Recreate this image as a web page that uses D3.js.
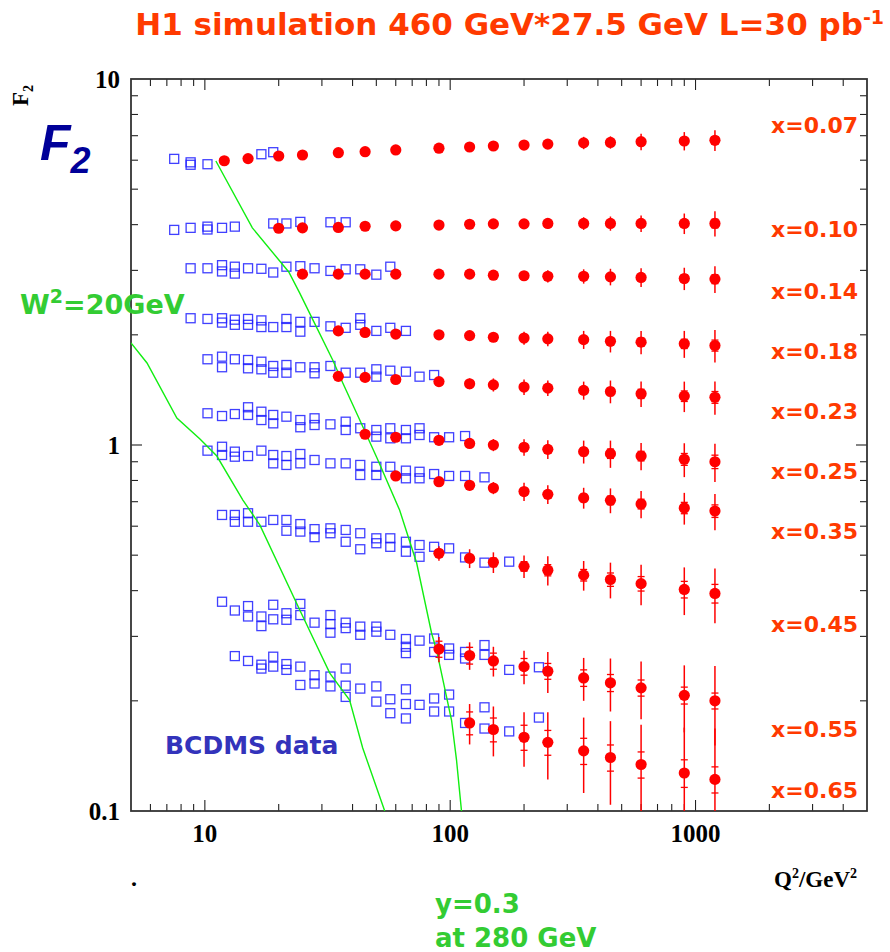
<!DOCTYPE html>
<html>
<head>
<meta charset="utf-8">
<script src="https://cdn.jsdelivr.net/npm/d3@7"></script>
<style>
  html, body { margin: 0; padding: 0; background: #ffffff; }
  svg { display: block; }
</style>
</head>
<body>
<svg id="chart" width="890" height="952"></svg>
<script>
// ---------------------------------------------------------------
// F2 structure function: simulated H1 points vs BCDMS measurements
// ---------------------------------------------------------------

// x bins (one row of points each)
const xBins = ["0.07", "0.10", "0.14", "0.18", "0.23", "0.25", "0.35", "0.45", "0.55", "0.65"];

// where each row's "x=..." label sits (in F2 units)
const labelF2 = [7.49, 3.89, 2.64, 1.81, 1.24, 0.849, 0.582, 0.324, 0.168, 0.114];

// simulated H1 Q^2 grid (GeV^2)
const h1Q2 = [12, 15, 20, 25, 35, 45, 60, 90, 120, 150, 200, 250, 350, 450, 600, 900, 1200];

// index of the first Q^2 value used by each row
const h1Start = [0, 2, 3, 4, 4, 5, 6, 7, 7, 8];

// simulated F2 values per row
const h1F2 = [
  [5.98, 6.06, 6.16, 6.20, 6.29, 6.33, 6.40, 6.47, 6.52, 6.56, 6.60, 6.64, 6.69, 6.71, 6.74, 6.77, 6.80],
  [3.91, 3.92, 3.93, 3.96, 3.97, 3.99, 4.01, 4.02, 4.02, 4.03, 4.03, 4.03, 4.03, 4.03, 4.03],
  [2.93, 2.93, 2.93, 2.93, 2.93, 2.93, 2.91, 2.90, 2.89, 2.89, 2.88, 2.87, 2.85, 2.84],
  [2.05, 2.03, 2.01, 2.00, 1.99, 1.97, 1.96, 1.95, 1.94, 1.92, 1.91, 1.89, 1.87],
  [1.54, 1.53, 1.51, 1.49, 1.47, 1.46, 1.44, 1.43, 1.41, 1.40, 1.38, 1.36, 1.35],
  [1.07, 1.05, 1.03, 1.01, 1.00, 0.986, 0.973, 0.959, 0.947, 0.933, 0.914, 0.900],
  [0.823, 0.794, 0.776, 0.763, 0.746, 0.733, 0.717, 0.706, 0.690, 0.673, 0.660],
  [0.506, 0.490, 0.478, 0.466, 0.455, 0.441, 0.429, 0.418, 0.403, 0.393],
  [0.277, 0.266, 0.257, 0.248, 0.241, 0.231, 0.224, 0.217, 0.207, 0.200],
  [0.174, 0.167, 0.159, 0.154, 0.146, 0.140, 0.134, 0.127, 0.122]
];

// total uncertainty per point
const h1Err = [
  [0.08, 0.08, 0.08, 0.08, 0.08, 0.08, 0.08, 0.12, 0.12, 0.12, 0.17, 0.17, 0.26, 0.26, 0.35, 0.39, 0.44],
  [0.05, 0.05, 0.05, 0.05, 0.05, 0.08, 0.08, 0.10, 0.10, 0.13, 0.16, 0.18, 0.21, 0.26, 0.32],
  [0.04, 0.04, 0.06, 0.06, 0.06, 0.08, 0.07, 0.09, 0.11, 0.13, 0.15, 0.17, 0.20, 0.24],
  [0.04, 0.04, 0.04, 0.04, 0.05, 0.06, 0.08, 0.09, 0.11, 0.13, 0.14, 0.16, 0.19],
  [0.03, 0.03, 0.04, 0.04, 0.05, 0.06, 0.07, 0.07, 0.08, 0.10, 0.11, 0.13, 0.14],
  [0.020, 0.020, 0.026, 0.032, 0.038, 0.051, 0.057, 0.069, 0.081, 0.080, 0.097, 0.108],
  [0.016, 0.020, 0.025, 0.029, 0.043, 0.043, 0.047, 0.055, 0.059, 0.067, 0.075],
  [0.023, 0.029, 0.031, 0.033, 0.042, 0.041, 0.048, 0.053, 0.060, 0.067],
  [0.022, 0.023, 0.024, 0.026, 0.031, 0.031, 0.037, 0.039, 0.043, 0.049],
  [0.022, 0.026, 0.027, 0.032, 0.034, 0.036, 0.038, 0.042, 0.046]
];

// statistical part of the uncertainty (inner tick marks)
const h1Stat = [
  [0.03, 0.03, 0.03, 0.03, 0.03, 0.03, 0.03, 0.04, 0.04, 0.04, 0.06, 0.06, 0.09, 0.09, 0.12, 0.14, 0.15],
  [0.02, 0.02, 0.02, 0.02, 0.02, 0.03, 0.03, 0.04, 0.04, 0.05, 0.06, 0.06, 0.07, 0.09, 0.11],
  [0.015, 0.015, 0.02, 0.02, 0.02, 0.03, 0.03, 0.03, 0.04, 0.05, 0.05, 0.06, 0.07, 0.08],
  [0.015, 0.015, 0.015, 0.015, 0.02, 0.02, 0.03, 0.03, 0.04, 0.045, 0.05, 0.055, 0.065],
  [0.01, 0.01, 0.015, 0.015, 0.02, 0.02, 0.025, 0.025, 0.03, 0.035, 0.04, 0.045, 0.05],
  [0.008, 0.008, 0.010, 0.012, 0.014, 0.018, 0.020, 0.024, 0.028, 0.028, 0.034, 0.038],
  [0.006, 0.008, 0.009, 0.011, 0.015, 0.015, 0.017, 0.019, 0.021, 0.024, 0.026],
  [0.010, 0.012, 0.013, 0.014, 0.016, 0.016, 0.018, 0.019, 0.021, 0.023],
  [0.014, 0.014, 0.013, 0.013, 0.012, 0.012, 0.012, 0.011, 0.011, 0.010],
  [0.0125, 0.0125, 0.0125, 0.012, 0.012, 0.0115, 0.011, 0.011, 0.010]
];

// BCDMS measurements per row: [Q^2, F2]
const bcdms007 = [[7.5, 6.05], [8.75, 5.92], [8.75, 5.83], [10.25, 5.85], [17, 6.23], [19, 6.31]];
const bcdms010 = [[7.5, 3.87], [8.75, 3.92], [10.25, 3.95], [10.25, 3.88], [11.75, 3.92], [13.25, 3.95],
  [19, 4.03], [21.5, 4.03], [24.5, 4.07], [32.5, 4.06], [37.5, 4.06]];
const bcdms014 = [[8.75, 3.04], [10.25, 3.04], [11.75, 3.10], [11.75, 2.98], [13.25, 3.07], [13.25, 2.94],
  [15, 3.04], [17, 3.03], [19, 2.96], [21.5, 3.07], [24.5, 3.08], [28, 3.04], [32.5, 2.99], [37.5, 3.02],
  [43, 3.02], [50, 2.92], [57, 3.07]];
const bcdms018 = [[8.75, 2.22], [10.25, 2.21], [11.75, 2.22], [11.75, 2.16], [13.25, 2.20], [13.25, 2.13],
  [15, 2.21], [15, 2.13], [17, 2.19], [17, 2.10], [19, 2.10], [21.5, 2.21], [21.5, 2.10], [24.5, 2.17],
  [24.5, 2.04], [28, 2.17], [32.5, 2.11], [37.5, 2.09], [43, 2.22], [43, 2.13], [50, 2.05], [57, 2.09], [66, 2.05]];
const bcdms023 = [[10.25, 1.715], [11.75, 1.743], [11.75, 1.631], [13.25, 1.715], [15, 1.707], [15, 1.62],
  [17, 1.689], [17, 1.61], [19, 1.644], [19, 1.576], [21.5, 1.654], [21.5, 1.576], [24.5, 1.631], [28, 1.631],
  [28, 1.57], [32.5, 1.644], [37.5, 1.576], [43, 1.576], [50, 1.61], [50, 1.537], [57, 1.596], [66, 1.586],
  [75, 1.537], [86, 1.553]];
const bcdms025 = [[10.25, 1.221], [11.75, 1.2], [13.25, 1.215], [15, 1.268], [15, 1.208], [17, 1.233], [17, 1.17],
  [19, 1.208], [19, 1.146], [21.5, 1.195], [24.5, 1.17], [24.5, 1.118], [28, 1.183], [28, 1.134], [32.5, 1.139],
  [37.5, 1.158], [37.5, 1.099], [43, 1.111], [50, 1.099], [50, 1.054], [57, 1.111], [57, 1.043], [66, 1.099],
  [66, 1.043], [75, 1.111], [75, 1.065], [86, 1.05], [99, 1.05], [115, 1.058]];
const bcdms035 = [[10.25, 0.965], [11.75, 0.989], [11.75, 0.939], [13.25, 0.959], [13.25, 0.929], [15, 0.933],
  [17, 0.965], [19, 0.939], [19, 0.891], [21.5, 0.933], [21.5, 0.882], [24.5, 0.945], [24.5, 0.891], [28, 0.91],
  [32.5, 0.891], [37.5, 0.891], [43, 0.882], [43, 0.828], [50, 0.872], [50, 0.828], [57, 0.872], [66, 0.851],
  [66, 0.811], [75, 0.845], [75, 0.811], [86, 0.833], [99, 0.823], [115, 0.823], [138, 0.816]];
const bcdms045 = [[11.75, 0.644], [13.25, 0.644], [13.25, 0.617], [15, 0.651], [15, 0.617], [17, 0.617],
  [19, 0.624], [21.5, 0.624], [21.5, 0.583], [24.5, 0.608], [24.5, 0.58], [28, 0.589], [28, 0.56], [32.5, 0.592],
  [32.5, 0.574], [37.5, 0.586], [37.5, 0.544], [43, 0.574], [43, 0.519], [50, 0.556], [50, 0.539], [57, 0.556],
  [57, 0.527], [66, 0.544], [66, 0.511], [75, 0.533], [75, 0.495], [86, 0.527], [99, 0.522], [115, 0.493],
  [138, 0.477], [174, 0.48]];
const bcdms055 = [[11.75, 0.373], [13.25, 0.353], [15, 0.363], [15, 0.34], [17, 0.34], [17, 0.32], [19, 0.366],
  [19, 0.334], [21.5, 0.347], [21.5, 0.333], [24.5, 0.368], [24.5, 0.343], [28, 0.327], [32.5, 0.343],
  [32.5, 0.324], [32.5, 0.307], [37.5, 0.327], [37.5, 0.316], [43, 0.319], [43, 0.303], [50, 0.319], [50, 0.309],
  [57, 0.303], [66, 0.295], [66, 0.281], [66, 0.27], [75, 0.292], [86, 0.296], [86, 0.272], [99, 0.278],
  [99, 0.267], [115, 0.272], [115, 0.261], [138, 0.284], [138, 0.267], [174, 0.243], [230, 0.247]];
const bcdms065 = [[13.25, 0.265], [15, 0.257], [17, 0.251], [17, 0.245], [19, 0.264], [19, 0.248], [21.5, 0.252],
  [21.5, 0.243], [24.5, 0.248], [24.5, 0.221], [28, 0.235], [28, 0.223], [32.5, 0.233], [32.5, 0.219],
  [37.5, 0.245], [37.5, 0.22], [37.5, 0.205], [43, 0.216], [50, 0.219], [50, 0.199], [57, 0.202], [57, 0.185],
  [66, 0.215], [66, 0.196], [66, 0.179], [75, 0.195], [86, 0.203], [86, 0.187], [99, 0.208], [99, 0.187],
  [115, 0.174], [138, 0.192], [138, 0.168], [174, 0.165], [230, 0.18]];
const bcdmsRows = [bcdms007, bcdms010, bcdms014, bcdms018, bcdms023, bcdms025, bcdms035, bcdms045, bcdms055, bcdms065];

// kinematic limits: W^2 = 20 GeV^2 and y = 0.3 (280 GeV beam)
const w2Q2 = [5.0, 5.81, 7.69, 9.55, 11.19, 14.29, 16.75, 24.37, 32.3, 38.9, 44.0, 54.1];
const w2F2 = [1.90, 1.675, 1.185, 1.038, 0.933, 0.707, 0.605, 0.354, 0.238, 0.201, 0.1486, 0.1];
const yCutQ2 = [11.09, 15.62, 21.98, 24.37, 27.54, 33.2, 36.5, 42.8, 50.1, 62.2, 73.0, 84.0, 88.0, 101.3, 106.1, 111.2];
const yCutF2 = [5.97, 3.92, 2.97, 2.60, 2.20, 1.707, 1.477, 1.170, 0.927, 0.664, 0.476, 0.306, 0.275, 0.177, 0.138, 0.1];

// ---------------------------------------------------------------
const frame = { left: 131, right: 867, top: 79, bottom: 811 };
const x = d3.scaleLog().domain([5, 5000]).range([frame.left, frame.right]);
const y = d3.scaleLog().domain([0.1, 10]).range([frame.bottom, frame.top]);

const svg = d3.select("#chart");
const SANS = "'DejaVu Sans', Verdana, sans-serif";
const SERIF = "'Liberation Serif', 'Times New Roman', serif";
const RED = "#ff0000";
const LABEL = "#ff3a00";

svg.append("defs").append("clipPath").attr("id", "plotClip")
  .append("rect")
  .attr("x", frame.left).attr("y", frame.top)
  .attr("width", frame.right - frame.left).attr("height", frame.bottom - frame.top);

// ---- ticks (inward on all four sides) ----
const isDecade = v => Math.abs(Math.log10(v) - Math.round(Math.log10(v))) < 1e-9;
const xTicks = x.ticks().filter(v => v > 5 && v < 5000);
const yTicks = y.ticks().filter(v => v > 0.1 + 1e-9 && v < 10 - 1e-9);
const tickLen = v => (isDecade(v) ? 11 : 7);
const gTicks = svg.append("g").attr("stroke", "#222").attr("stroke-width", 1.1);

gTicks.selectAll("line.xb").data(xTicks).join("line").attr("class", "xb")
  .attr("x1", d => x(d)).attr("x2", d => x(d))
  .attr("y1", frame.bottom).attr("y2", d => frame.bottom - tickLen(d));
gTicks.selectAll("line.xt").data(xTicks).join("line").attr("class", "xt")
  .attr("x1", d => x(d)).attr("x2", d => x(d))
  .attr("y1", frame.top).attr("y2", d => frame.top + tickLen(d));
gTicks.selectAll("line.yl").data(yTicks).join("line").attr("class", "yl")
  .attr("y1", d => y(d)).attr("y2", d => y(d))
  .attr("x1", frame.left).attr("x2", d => frame.left + tickLen(d));
gTicks.selectAll("line.yr").data(yTicks).join("line").attr("class", "yr")
  .attr("y1", d => y(d)).attr("y2", d => y(d))
  .attr("x1", frame.right).attr("x2", d => frame.right - tickLen(d));

// frame
svg.append("rect")
  .attr("x", frame.left).attr("y", frame.top)
  .attr("width", frame.right - frame.left).attr("height", frame.bottom - frame.top)
  .attr("fill", "none").attr("stroke", "#333").attr("stroke-width", 1.8);

// ---- tick labels ----
const xLabels = [10, 100, 1000];
const yLabels = [10, 1, 0.1];
svg.append("g").selectAll("text").data(xLabels).join("text")
  .attr("x", d => x(d)).attr("y", 842)
  .attr("text-anchor", "middle")
  .attr("font-family", SERIF).attr("font-weight", "bold").attr("font-size", 25)
  .text(d => d3.format("d")(d));
svg.append("g").selectAll("text").data(yLabels).join("text")
  .attr("x", 120).attr("y", d => y(d) + 9)
  .attr("text-anchor", "end")
  .attr("font-family", SERIF).attr("font-weight", "bold").attr("font-size", 25)
  .text(d => String(d));

// ---- BCDMS open squares ----
const sq = 9;
const gB = svg.append("g").attr("clip-path", "url(#plotClip)");
bcdmsRows.forEach(rows => {
  gB.append("g").selectAll("rect").data(rows).join("rect")
    .attr("x", d => x(d[0]) - sq / 2).attr("y", d => y(d[1]) - sq / 2)
    .attr("width", sq).attr("height", sq)
    .attr("fill", "none").attr("stroke", "#1f1fff").attr("stroke-opacity", 0.85).attr("stroke-width", 1.3);
});

// ---- kinematic limit lines ----
const limitLine = d3.line().x(d => x(d[0])).y(d => y(d[1]));
const gL = svg.append("g").attr("clip-path", "url(#plotClip)")
  .attr("fill", "none").attr("stroke", "#11ee11").attr("stroke-width", 1.4);
gL.append("path").attr("d", limitLine(w2Q2.map((q, i) => [q, w2F2[i]])));
gL.append("path").attr("d", limitLine(yCutQ2.map((q, i) => [q, yCutF2[i]])));

// ---- simulated H1 points with error bars ----
const gH = svg.append("g").attr("clip-path", "url(#plotClip)");
h1F2.forEach((vals, r) => {
  const pts = vals.map((f, i) => ({
    q: h1Q2[h1Start[r] + i], f: f, e: h1Err[r][i], s: h1Stat[r][i]
  }));
  const g = gH.append("g");
  g.selectAll("line.err").data(pts).join("line").attr("class", "err")
    .attr("x1", d => x(d.q)).attr("x2", d => x(d.q))
    .attr("y1", d => y(d.f - d.e)).attr("y2", d => y(d.f + d.e))
    .attr("stroke", RED).attr("stroke-width", 1.5);
  ["lo", "hi"].forEach(side => {
    g.selectAll("line.st" + side).data(pts).join("line").attr("class", "st" + side)
      .attr("x1", d => x(d.q) - 3.5).attr("x2", d => x(d.q) + 3.5)
      .attr("y1", d => y(side === "lo" ? d.f - d.s : d.f + d.s))
      .attr("y2", d => y(side === "lo" ? d.f - d.s : d.f + d.s))
      .attr("stroke", RED).attr("stroke-width", 1.3);
  });
  g.selectAll("circle").data(pts).join("circle")
    .attr("cx", d => x(d.q)).attr("cy", d => y(d.f)).attr("r", 5.6)
    .attr("fill", RED);
});

// ---- row labels ----
svg.append("g").selectAll("text").data(xBins).join("text")
  .attr("x", 858).attr("y", (d, i) => y(labelF2[i]) + 8)
  .attr("text-anchor", "end")
  .attr("font-family", SANS).attr("font-weight", "bold").attr("font-size", 22)
  .attr("fill", LABEL)
  .text(d => "x=" + d);

// ---- titles and annotations ----
const title = svg.append("text")
  .attr("x", 884).attr("y", 35).attr("text-anchor", "end")
  .attr("font-family", SANS).attr("font-weight", "bold").attr("font-size", 31)
  .attr("fill", LABEL);
title.append("tspan").text("H1 simulation 460 GeV*27.5 GeV L=30 pb");
title.append("tspan").attr("dy", -11).attr("font-size", 19).text("-1");

// axis titles
const yTitle = svg.append("text")
  .attr("transform", "translate(28,106) rotate(-90)")
  .attr("font-family", SERIF).attr("font-weight", "bold").attr("font-size", 23)
  .attr("fill", "#000");
yTitle.append("tspan").text("F");
yTitle.append("tspan").attr("dy", 5).attr("font-size", 14).text("2");

const xTitle = svg.append("text")
  .attr("x", 857).attr("y", 887).attr("text-anchor", "end")
  .attr("font-family", SERIF).attr("font-weight", "bold").attr("font-size", 23)
  .attr("fill", "#000");
xTitle.append("tspan").text("Q");
xTitle.append("tspan").attr("dy", -9).attr("font-size", 14).text("2");
xTitle.append("tspan").attr("dy", 9).text("/GeV");
xTitle.append("tspan").attr("dy", -9).attr("font-size", 14).text("2");

svg.append("text").attr("x", 131).attr("y", 886)
  .attr("font-family", SERIF).attr("font-weight", "bold").attr("font-size", 24)
  .text(".");

// large F2 emblem
const big = svg.append("text").attr("x", 40).attr("y", 160)
  .attr("font-family", "'Liberation Sans', Arial, sans-serif")
  .attr("font-weight", "bold").attr("font-style", "italic")
  .attr("font-size", 50).attr("fill", "#000099");
big.append("tspan").text("F");
big.append("tspan").attr("dy", 13).attr("font-size", 36).text("2");

// limit-line annotations
const w2 = svg.append("text").attr("x", 20).attr("y", 314)
  .attr("font-family", SANS).attr("font-weight", "bold").attr("font-size", 27)
  .attr("fill", "#33cc33");
w2.append("tspan").text("W");
w2.append("tspan").attr("dy", -11).attr("font-size", 19).text("2");
w2.append("tspan").attr("dy", 11).text("=20GeV");

svg.append("text").attr("x", 435).attr("y", 913)
  .attr("font-family", SANS).attr("font-weight", "bold").attr("font-size", 26)
  .attr("fill", "#33cc33").text("y=0.3");
svg.append("text").attr("x", 435).attr("y", 947)
  .attr("font-family", SANS).attr("font-weight", "bold").attr("font-size", 26)
  .attr("fill", "#33cc33").text("at 280 GeV");

svg.append("text").attr("x", 165).attr("y", 754)
  .attr("font-family", SANS).attr("font-weight", "bold").attr("font-size", 25)
  .attr("fill", "#3333bb").text("BCDMS data");
</script>
</body>
</html>
